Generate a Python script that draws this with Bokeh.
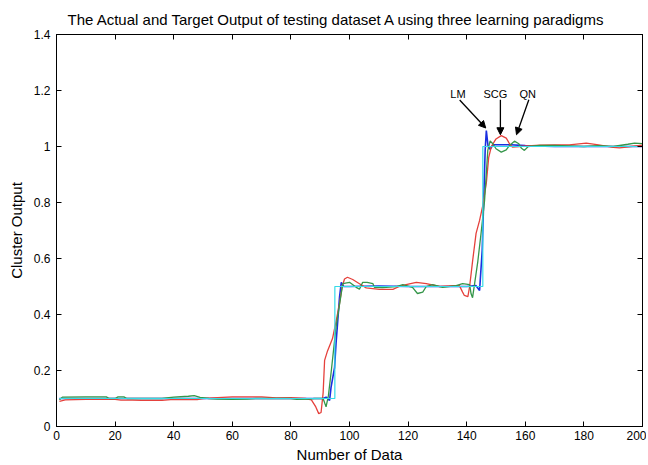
from bokeh.plotting import figure
from bokeh.models import Range1d, FixedTicker, LinearAxis, Arrow, NormalHead, Label
from bokeh.embed import file_html
from bokeh.resources import INLINE

# ---------------- data ----------------
title_text = "The Actual and Target Output of testing dataset A using three learning paradigms"
x_ticks = [0, 20, 40, 60, 80, 100, 120, 140, 160, 180, 200]
y_ticks = [0, 0.2, 0.4, 0.6, 0.8, 1, 1.2, 1.4]
y_tick_labels = ["0", "0.2", "0.4", "0.6", "0.8", "1", "1.2", "1.4"]

# Target output (cyan)
target_x = [1, 95, 95, 145.5, 145.5, 200]
target_y = [0.1, 0.1, 0.5, 0.5, 1.0, 1.0]

# LM (blue)
lm_x = [1, 10, 20, 30, 40, 50, 60, 70, 80, 88, 91, 92, 93.2, 93.7, 94.9, 95.4,
        96, 96.6, 97.2, 98, 100, 110, 120, 130, 140, 143.2, 144.4, 145.3, 145.8,
        146.3, 146.7, 147.3, 148, 149, 155, 160, 170, 180, 190, 200]
lm_y = [0.1, 0.1, 0.1, 0.1, 0.1, 0.1, 0.1, 0.1, 0.1, 0.1, 0.1, 0.105, 0.093, 0.14,
        0.21, 0.296, 0.379, 0.462, 0.515, 0.5, 0.5, 0.502, 0.5, 0.5, 0.5, 0.503,
        0.486, 0.63, 0.807, 0.986, 1.057, 1.0, 0.99, 1.006, 1.006, 1.003, 1.0,
        1.0, 1.0, 1.0]

# SCG (red)
scg_x = [1, 3, 10, 20, 22, 26, 29, 36, 40, 48, 50, 55, 60, 70, 75, 80, 85, 87,
         88.5, 89.5, 90.3, 91, 91.5, 92.5, 94.2, 95.5, 96.6, 97.5, 98.3, 99.3,
         101.1, 103.4, 105.7, 110.2, 114.8, 117, 119.3, 122.8, 126.2, 130.7,
         135.2, 137.5, 138.6, 139.2, 140.4, 141, 142, 143.2, 144.4, 145.5, 146.7,
         147.5, 148.4, 150, 151.8, 153.5, 154.6, 155.6, 158, 165, 170, 175, 180.8,
         185, 190, 192.2, 196, 200]
scg_y = [0.09, 0.095, 0.097, 0.097, 0.094, 0.094, 0.093, 0.093, 0.097, 0.096,
         0.1, 0.103, 0.106, 0.106, 0.102, 0.103, 0.1, 0.095, 0.07, 0.046, 0.05,
         0.12, 0.236, 0.27, 0.314, 0.38, 0.44, 0.5, 0.527, 0.533, 0.525, 0.51,
         0.495, 0.49, 0.49, 0.5, 0.507, 0.515, 0.51, 0.5, 0.503, 0.503, 0.48,
         0.468, 0.464, 0.5, 0.59, 0.69, 0.736, 0.79, 0.87, 0.96, 1.0, 1.027,
         1.039, 1.03, 1.01, 0.998, 1.0, 1.005, 1.006, 1.006, 1.012, 1.006, 0.997,
         0.995, 1.0, 1.005]

# QN (green)
qn_x = [1, 2, 10, 17, 18, 20, 21, 23, 24, 30, 36, 40, 45, 47, 49, 52, 55, 60, 65,
        68, 75, 80, 82, 86, 88, 91, 92, 92.8, 93.8, 95.4, 97.7, 100, 102.3, 103.4,
        104.5, 106, 108, 108.5, 111.3, 116, 118.2, 121.5, 123.2, 125, 126.2,
        128.4, 131.8, 136.4, 138.6, 141, 141.5, 142, 142.7, 143.8, 144.9, 146.1,
        147.2, 148, 148.9, 150, 151.8, 153.5, 154.6, 156.3, 157.8, 158.6, 159.7,
        161, 165, 170, 180, 185, 190, 195, 197.3, 200]
qn_y = [0.095, 0.105, 0.106, 0.106, 0.1, 0.1, 0.106, 0.106, 0.1, 0.1, 0.1, 0.105,
        0.108, 0.11, 0.104, 0.1, 0.098, 0.097, 0.098, 0.1, 0.1, 0.1, 0.097, 0.098,
        0.1, 0.1, 0.07, 0.11, 0.2, 0.355, 0.51, 0.515, 0.497, 0.49, 0.515, 0.515,
        0.51, 0.497, 0.496, 0.5, 0.507, 0.497, 0.475, 0.48, 0.5, 0.507, 0.497,
        0.503, 0.51, 0.507, 0.474, 0.46, 0.51, 0.59, 0.69, 0.807, 0.986, 1.02,
        1.01, 0.992, 0.98, 0.988, 1.004, 1.019, 1.01, 0.995, 0.986, 1.0, 1.004,
        1.004, 1.0, 1.003, 1.0, 1.008, 1.012, 1.01]

# ---------------- figure ----------------
FONT = "Liberation Sans"
p = figure(frame_width=586, frame_height=392,
           x_range=Range1d(0, 200), y_range=Range1d(0, 1.4),
           output_backend="svg", toolbar_location=None,
           min_border_left=56, min_border_right=4, min_border_top=34,
           min_border_bottom=37, title=title_text)
p.title.text_font = FONT
p.title.text_font_size = "15px"
p.title.text_font_style = "normal"
p.title.align = "left"
p.title.offset = 11
p.title.text_color = "black"
p.title.standoff = 14

p.xgrid.visible = False
p.ygrid.visible = False
p.outline_line_color = "black"
p.outline_line_width = 1
p.outline_line_alpha = 1
p.background_fill_color = "white"
p.border_fill_color = "white"

for ax in (p.xaxis[0], p.yaxis[0]):
    ax.major_tick_in = 5
    ax.major_tick_out = 0
    ax.minor_tick_line_color = None
    ax.axis_line_color = "black"
    ax.major_tick_line_color = "black"
    ax.major_label_text_font = FONT
    ax.major_label_text_font_size = "12px"
    ax.major_label_text_color = "black"
    ax.axis_label_text_font = FONT
    ax.axis_label_text_font_size = "15px"
    ax.axis_label_text_font_style = "normal"
    ax.axis_label_text_color = "black"

p.xaxis.ticker = FixedTicker(ticks=x_ticks)
p.yaxis.ticker = FixedTicker(ticks=y_ticks)
p.yaxis.major_label_overrides = {t: s for t, s in zip(y_ticks, y_tick_labels)}
p.xaxis.axis_label = "Number of Data"
p.yaxis.axis_label = "Cluster Output"
p.xaxis.major_label_standoff = 4
p.xaxis.axis_label_standoff = 3
p.yaxis.major_label_standoff = 6
p.yaxis.axis_label_standoff = 6

# tick marks on the top and right borders (no labels)
top = LinearAxis(ticker=FixedTicker(ticks=x_ticks), major_tick_in=5, major_tick_out=0,
                 minor_tick_line_color=None, major_label_text_color=None,
                 major_label_text_font_size="1px",
                 major_label_standoff=0, axis_line_color="black")
right = LinearAxis(ticker=FixedTicker(ticks=y_ticks), major_tick_in=5, major_tick_out=0,
                   minor_tick_line_color=None, major_label_text_color=None,
                   major_label_text_font_size="1px",
                   major_label_standoff=0, axis_line_color="black")
p.add_layout(top, "above")
p.add_layout(right, "right")

# ---------------- lines ----------------
p.line(lm_x, lm_y, line_color="#1a2fe0", line_width=1.6)
p.line(scg_x, scg_y, line_color="#e5413c", line_width=1.3)
p.line(qn_x, qn_y, line_color="#35964a", line_width=1.3)
p.line(target_x, target_y, line_color="#35dbe8", line_width=1.2)

# ---------------- annotations ----------------
for txt, tx in (("LM", 137), ("SCG", 149.8), ("QN", 160.8)):
    p.add_layout(Label(x=tx, y=1.186, text=txt, text_font=FONT, text_font_size="11px",
                       text_align="center", text_baseline="middle", text_color="black"))

for xs, ys, xe, ye in ((137.6, 1.166, 146.5, 1.066),
                       (151.5, 1.167, 151.5, 1.042),
                       (161.2, 1.167, 157.0, 1.042)):
    p.add_layout(Arrow(end=NormalHead(size=7, fill_color="black", line_color="black"),
                       x_start=xs, y_start=ys, x_end=xe, y_end=ye,
                       line_color="black", line_width=1.3))

open("out.html", "w").write(file_html(p, INLINE))
